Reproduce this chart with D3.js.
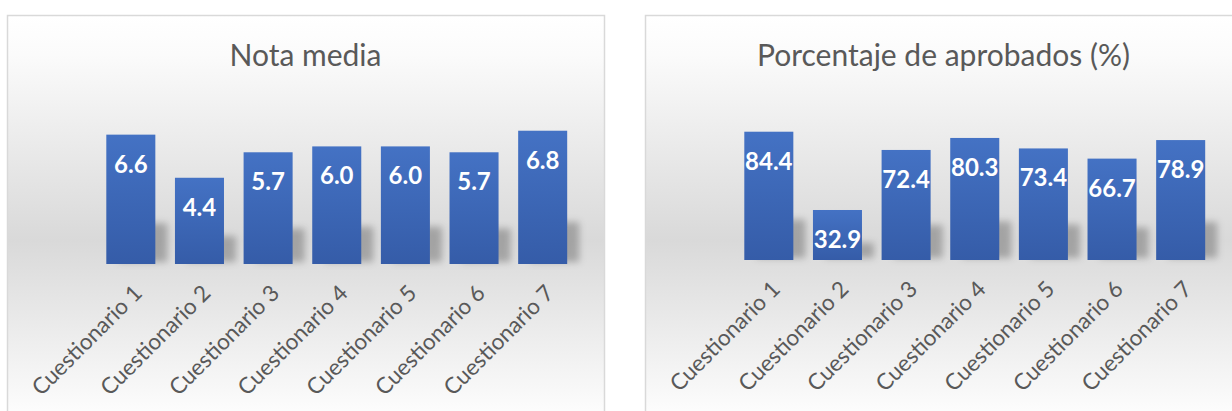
<!DOCTYPE html>
<html>
<head>
<meta charset="utf-8">
<script src="https://cdn.jsdelivr.net/npm/d3@7"></script>
<style>
  body { margin: 0; background: #fff; }
  svg { display: block; }
</style>
</head>
<body>
<div id="charts"></div>
<script>
const categories = [
  "Cuestionario 1", "Cuestionario 2", "Cuestionario 3", "Cuestionario 4",
  "Cuestionario 5", "Cuestionario 6", "Cuestionario 7",
];
const notaMedia = [6.6, 4.4, 5.7, 6.0, 6.0, 5.7, 6.8];
const aprobados = [84.4, 32.9, 72.4, 80.3, 73.4, 66.7, 78.9];
const titles = ["Nota media", "Porcentaje de aprobados (%)"];

const width = 1232;
const height = 411;

const svg = d3
  .select("#charts")
  .append("svg")
  .attr("width", width)
  .attr("height", height);

const defs = svg.append("defs");

// panel background: white -> grey -> white
const bg = defs
  .append("linearGradient")
  .attr("id", "panel-bg")
  .attr("gradientUnits", "userSpaceOnUse")
  .attr("x1", 0).attr("y1", 15).attr("x2", 0).attr("y2", 410);
bg.append("stop").attr("offset", 0).attr("stop-color", "#ffffff");
bg.append("stop").attr("offset", 0.1).attr("stop-color", "#fbfbfb");
bg.append("stop").attr("offset", 0.57).attr("stop-color", "#d9d9d9");
bg.append("stop").attr("offset", 1).attr("stop-color", "#fcfcfc");

const barGrad = defs
  .append("linearGradient")
  .attr("id", "bar-fill")
  .attr("x1", 0).attr("y1", 0).attr("x2", 0).attr("y2", 1);
barGrad.append("stop").attr("offset", 0).attr("stop-color", "#4472c4");
barGrad.append("stop").attr("offset", 1).attr("stop-color", "#355ca8");

defs
  .append("filter")
  .attr("id", "blur")
  .attr("x", "-50%").attr("y", "-50%")
  .attr("width", "200%").attr("height", "200%")
  .append("feGaussianBlur")
  .attr("stdDeviation", 3.5);

const drawChart = (values, title, panelX, yMax, plotTop, plotBottom) => {
  const panelW = 597;
  const g = svg.append("g");

  g.append("rect")
    .attr("x", panelX + 0.5)
    .attr("y", 15.5)
    .attr("width", panelW)
    .attr("height", 420)
    .attr("fill", "url(#panel-bg)")
    .attr("stroke", "#d9d9d9")
    .attr("stroke-width", 1.5);

  g.append("text")
    .text(title)
    .attr("x", panelX + panelW / 2)
    .attr("y", 66)
    .attr("text-anchor", "middle")
    .attr("font-family", "Lato, 'Open Sans', sans-serif")
    .attr("font-size", 30)
    .attr("fill", "#595959");

  const x = d3
    .scaleBand()
    .domain(categories)
    .range([panelX + 89.5, panelX + 570])
    .paddingInner(0.4 / 1.4)
    .paddingOuter(0.2 / 1.4);

  const y = d3.scaleLinear().domain([0, yMax]).range([plotBottom, plotTop]);

  const data = categories.map((c, i) => ({ cat: c, value: values[i] }));

  // perspective-ish shadow
  g.append("g")
    .attr("filter", "url(#blur)")
    .selectAll("rect")
    .data(data)
    .join("rect")
    .attr("x", (d) => x(d.cat) + 12)
    .attr("y", (d) => plotBottom - (plotBottom - y(d.value)) * 0.3 - 2)
    .attr("width", x.bandwidth())
    .attr("height", (d) => (plotBottom - y(d.value)) * 0.3)
    .attr("fill", "#000")
    .attr("fill-opacity", 0.25);

  g.append("g")
    .selectAll("rect")
    .data(data)
    .join("rect")
    .attr("x", (d) => x(d.cat))
    .attr("y", (d) => y(d.value))
    .attr("width", x.bandwidth())
    .attr("height", (d) => plotBottom - y(d.value))
    .attr("fill", "url(#bar-fill)");

  g.append("g")
    .selectAll("text")
    .data(data)
    .join("text")
    .text((d) => d3.format(".1f")(d.value))
    .attr("x", (d) => x(d.cat) + x.bandwidth() / 2)
    .attr("y", (d) => y(d.value) + 38)
    .attr("text-anchor", "middle")
    .attr("font-family", "Lato, 'Open Sans', sans-serif")
    .attr("font-weight", 700)
    .attr("font-size", 24)
    .attr("fill", "#ffffff");

  const axis = g
    .append("g")
    .attr("transform", `translate(0, ${plotBottom})`)
    .call(d3.axisBottom(x).tickSize(0).tickPadding(0));
  axis.select(".domain").remove();
  axis
    .selectAll("text")
    .attr("font-family", "Lato, 'Open Sans', sans-serif")
    .attr("font-size", 22.5)
    .attr("fill", "#595959")
    .attr("text-anchor", "end")
    .attr("dy", "0.35em")
    .attr("transform", "translate(7, 25) rotate(-45)");
};

drawChart(notaMedia, titles[0], 7, 8, 107.2, 264);
drawChart(aprobados, titles[1], 645, 100, 108, 260);
</script>
</body>
</html>
